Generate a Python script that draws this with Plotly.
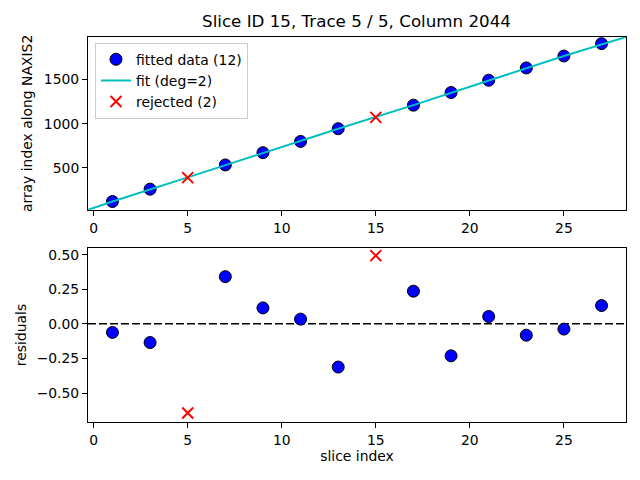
import plotly.graph_objects as go

# slices used in the fit and the ones rejected
fit_x = [1, 3, 7, 9, 11, 13, 17, 19, 21, 23, 25, 27]
fit_y = [120, 260, 534, 673, 800, 944, 1210, 1353, 1492, 1631, 1766, 1906]
rej_x = [5, 15]
rej_y = [391, 1072]

# fitted curve
curve_x = [-0.3, 1, 5, 9, 13, 17, 21, 25, 28.3]
curve_y = [26, 120, 393, 673, 944, 1210, 1492, 1766, 1981]

# residuals
res_fit = [-0.062, -0.135, 0.341, 0.115, 0.034, -0.312, 0.236, -0.231, 0.053, -0.082, -0.038, 0.132]
res_rej = [-0.644, 0.493]

xticks = [0, 5, 10, 15, 20, 25]

BLUE = "#0000ff"
RED = "#ff0000"
CYAN = "#00bfbf"

fig = go.Figure()

pt = dict(size=12, color=BLUE, line=dict(color="black", width=1))
xm = dict(symbol="x-thin-open", size=11, color=RED, line=dict(color=RED, width=2))

fig.add_trace(go.Scatter(x=fit_x, y=fit_y, mode="markers", marker=pt,
                         name="fitted data (12)", xaxis="x", yaxis="y"))
fig.add_trace(go.Scatter(x=curve_x, y=curve_y, mode="lines",
                         line=dict(color=CYAN, width=2),
                         name="fit (deg=2)", xaxis="x", yaxis="y"))
fig.add_trace(go.Scatter(x=rej_x, y=rej_y, mode="markers", marker=xm,
                         name="rejected (2)", xaxis="x", yaxis="y"))

fig.add_trace(go.Scatter(x=fit_x, y=res_fit, mode="markers", marker=pt,
                         showlegend=False, xaxis="x2", yaxis="y2"))
fig.add_trace(go.Scatter(x=rej_x, y=res_rej, mode="markers", marker=xm,
                         showlegend=False, xaxis="x2", yaxis="y2"))

# zero line for residuals
fig.add_shape(type="line", xref="x2 domain", yref="y2", x0=0, x1=1, y0=0, y1=0,
              line=dict(color="black", width=1.5, dash="8px,3px"), layer="below")

ax = dict(showline=True, mirror=True, linecolor="black", linewidth=1,
          ticks="outside", ticklen=5, tickcolor="black", showgrid=False,
          zeroline=False, tickfont=dict(size=13.9, color="black"))

fig.update_layout(
    width=640, height=480,
    margin=dict(l=88, r=14, t=37, b=58),
    paper_bgcolor="white", plot_bgcolor="white",
    font=dict(family="DejaVu Sans", size=13.9, color="black"),
    title=dict(text="Slice ID 15, Trace 5 / 5, Column 2044", x=0.557, xanchor="center",
               y=0.955, yanchor="middle", font=dict(size=16.7)),
    xaxis=dict(ax, domain=[0, 1], range=[-0.3, 28.3], tickvals=xticks, anchor="y"),
    yaxis=dict(ax, domain=[0.551, 1], range=[26, 1981], tickvals=[500, 1000, 1500],
               title=dict(text="array index along NAXIS2", font=dict(size=13.9), standoff=7),
               anchor="x"),
    xaxis2=dict(ax, domain=[0, 1], range=[-0.3, 28.3], tickvals=xticks, anchor="y2",
                title=dict(text="slice index", font=dict(size=13.9), standoff=4)),
    yaxis2=dict(ax, domain=[0, 0.452], range=[-0.709, 0.548],
                tickvals=[-0.5, -0.25, 0, 0.25, 0.5], tickformat=".2f",
                title=dict(text="residuals", font=dict(size=13.9), standoff=6),
                anchor="x2"),
    legend=dict(x=0.013, y=0.985, xanchor="left", yanchor="top",
                bgcolor="rgba(255,255,255,0.8)", bordercolor="#cccccc", borderwidth=1,
                font=dict(size=13.9), tracegroupgap=0),
)

fig.write_html("out.html", config={"displayModeBar": False},
               post_script="document.body.style.margin='0';")
